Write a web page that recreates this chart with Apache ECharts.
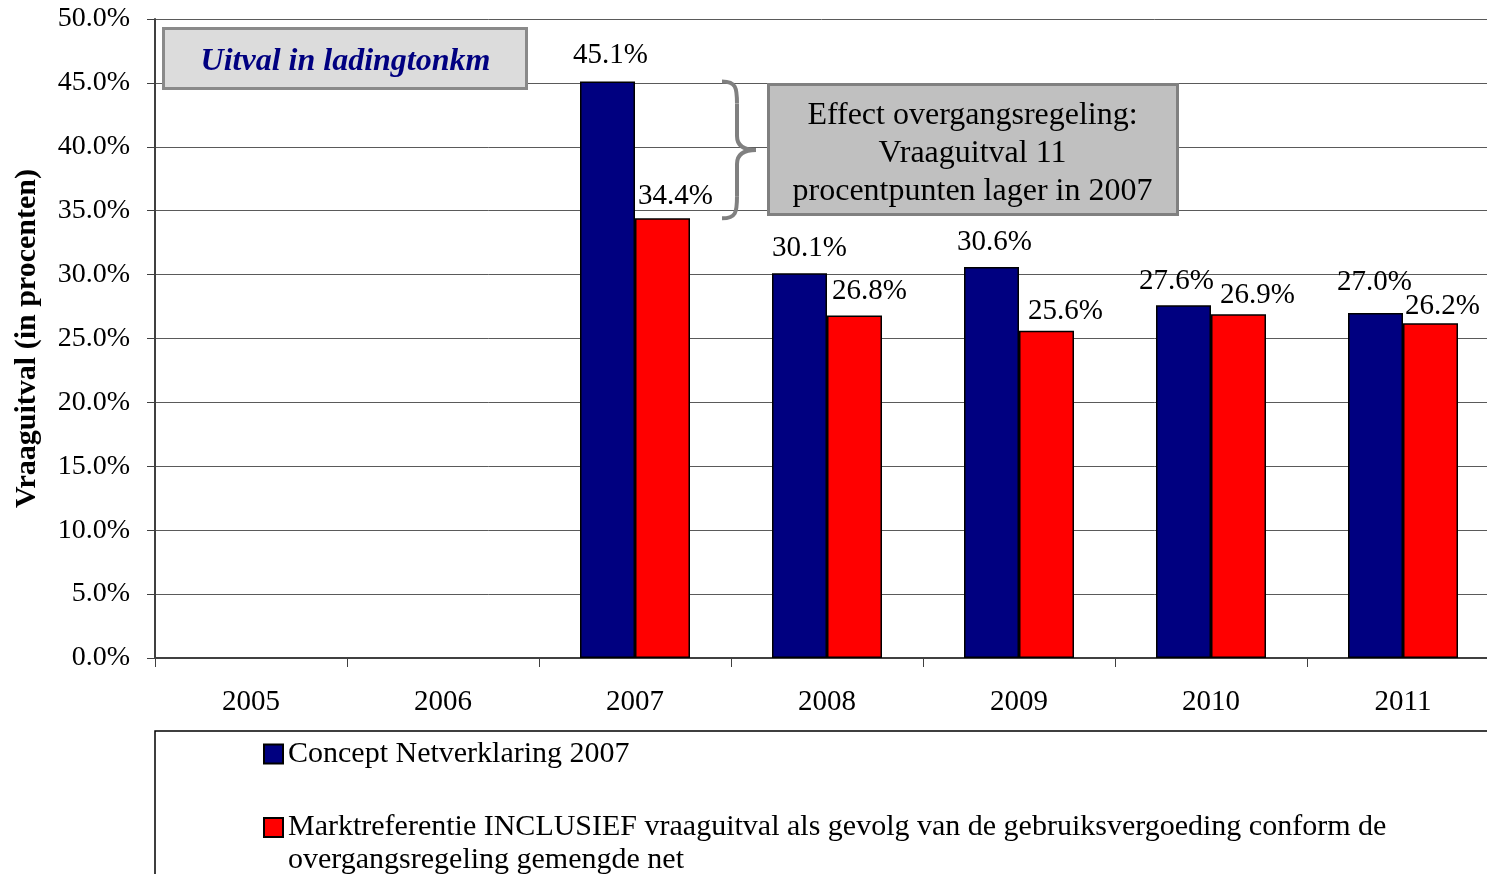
<!DOCTYPE html>
<html>
<head>
<meta charset="utf-8">
<script src="https://cdn.jsdelivr.net/npm/echarts@6/dist/echarts.min.js"></script>
<style>
  html, body { margin: 0; padding: 0; background: #fff; }
  #chart { width: 1487px; height: 874px; }
</style>
</head>
<body>
<div id="chart"></div>
<script>
// data
var years = ['2005', '2006', '2007', '2008', '2009', '2010', '2011']
var conceptNet = [null, null, 45.1, 30.1, 30.6, 27.6, 27.0]
var marktRef = [null, null, 34.4, 26.8, 25.6, 26.9, 26.2]
var seriesNames = [
  'Concept Netverklaring 2007',
  'Marktreferentie INCLUSIEF vraaguitval als gevolg van de gebruiksvergoeding conform de overgangsregeling gemengde net'
]
// label nudges (as in the original, labels were placed by hand)
var blueLabelOffset = [[0, 0], [0, 0], [3, 0], [10, 2], [3, 2], [-7, 3], [-1, -4]]
var redLabelOffset = [[0, 0], [0, 0], [13, 5], [15, 2], [19, 7], [19, 8], [12, 10]]

var font = '"Liberation Serif", "Times New Roman", serif'
var myChart = echarts.init(document.getElementById('chart'))

function withLabels(values, offsets) {
  return values.map(function (v, i) {
    return { value: v, label: { offset: offsets[i] } }
  })
}

var option = {
  backgroundColor: '#fff',
  animation: false,
  textStyle: { fontFamily: font },
  grid: { left: 155, top: 19, width: 1344, height: 639, outerBoundsMode: 'none' },
  legend: [
    {
      data: [seriesNames[0]],
      left: 258,
      top: 733,
      itemWidth: 19,
      itemHeight: 19,
      icon: 'rect',
      textStyle: { fontFamily: font, fontSize: 30, color: '#000', lineHeight: 32 }
    },
    {
      data: [seriesNames[1]],
      left: 258,
      top: 773,
      itemWidth: 19,
      itemHeight: 19,
      icon: 'rect',
      formatter: function () {
        // blank first line keeps the icon level with the first text line
        return ' \nMarktreferentie INCLUSIEF vraaguitval als gevolg van de gebruiksvergoeding conform de\novergangsregeling gemengde net'
      },
      textStyle: { fontFamily: font, fontSize: 30, color: '#000', lineHeight: 33 }
    }
  ],
  xAxis: {
    type: 'category',
    data: years,
    axisLine: { lineStyle: { color: '#404040', width: 2 } },
    axisTick: { show: true, length: 9, lineStyle: { color: '#404040' } },
    axisLabel: { fontFamily: font, fontSize: 29, color: '#000', margin: 30 }
  },
  yAxis: {
    type: 'value',
    min: 0,
    max: 50,
    interval: 5,
    name: 'Vraaguitval (in procenten)',
    nameLocation: 'middle',
    nameGap: 113,
    nameTextStyle: { fontFamily: font, fontSize: 30, fontWeight: 'bold', color: '#000' },
    axisLine: { show: true, lineStyle: { color: '#404040', width: 2 } },
    axisTick: { show: true, length: 8, lineStyle: { color: '#404040' } },
    axisLabel: {
      fontFamily: font, fontSize: 28, color: '#000', margin: 25,
      formatter: function (v) { return v.toFixed(1) + '%' }
    },
    splitLine: { lineStyle: { color: '#5a5a5a', width: 1 } }
  },
  series: [
    {
      name: seriesNames[0],
      type: 'bar',
      barWidth: 55,
      barGap: '0%',
      data: withLabels(conceptNet, blueLabelOffset),
      itemStyle: { color: '#000080', borderColor: '#000', borderWidth: 1.5 },
      label: {
        show: true, position: 'top', distance: 12,
        fontFamily: font, fontSize: 29, color: '#000',
        formatter: function (p) { return p.value == null ? '' : p.value.toFixed(1) + '%' }
      }
    },
    {
      name: seriesNames[1],
      type: 'bar',
      barWidth: 55,
      data: withLabels(marktRef, redLabelOffset),
      itemStyle: { color: '#ff0000', borderColor: '#000', borderWidth: 1.5 },
      label: {
        show: true, position: 'top', distance: 12,
        fontFamily: font, fontSize: 29, color: '#000',
        formatter: function (p) { return p.value == null ? '' : p.value.toFixed(1) + '%' }
      }
    }
  ]
}
myChart.setOption(option)

// annotations: brace spans the gap between the two 2007 bars
var yTop = myChart.convertToPixel({ yAxisIndex: 0 }, conceptNet[2])
var yBot = myChart.convertToPixel({ yAxisIndex: 0 }, marktRef[2])
var ym = (yTop + yBot) / 2
var x0 = 722
var xs = x0 + 15
var braceStyle = { fill: 'none', stroke: '#808080', lineWidth: 4 }
var brace = [
  { type: 'bezierCurve', shape: { x1: x0, y1: yTop, cpx1: x0 + 14, cpy1: yTop, cpx2: xs, cpy2: yTop + 6, x2: xs, y2: yTop + 22 } },
  { type: 'line', shape: { x1: xs, y1: yTop + 22, x2: xs, y2: ym - 14 } },
  { type: 'bezierCurve', shape: { x1: xs, y1: ym - 14, cpx1: xs, cpy1: ym - 4, cpx2: xs + 7, cpy2: ym, x2: x0 + 34, y2: ym } },
  { type: 'bezierCurve', shape: { x1: x0 + 34, y1: ym, cpx1: xs + 7, cpy1: ym, cpx2: xs, cpy2: ym + 4, x2: xs, y2: ym + 14 } },
  { type: 'line', shape: { x1: xs, y1: ym + 14, x2: xs, y2: yBot - 22 } },
  { type: 'bezierCurve', shape: { x1: xs, y1: yBot - 22, cpx1: xs, cpy1: yBot - 6, cpx2: x0 + 14, cpy2: yBot, x2: x0, y2: yBot } }
].map(function (el) {
  el.style = braceStyle
  el.z = 10
  return el
})

myChart.setOption({
  graphic: [
    {
      type: 'rect',
      shape: { x: 155, y: 731, width: 1400, height: 200 },
      style: { fill: 'none', stroke: '#000', lineWidth: 1.5 },
      z: 1
    },
    {
      type: 'group',
      left: 162,
      top: 27,
      children: [
        {
          type: 'rect',
          shape: { x: 0, y: 0, width: 363, height: 60 },
          style: { fill: '#dcdcdc', stroke: '#8a8a8a', lineWidth: 3 }
        },
        {
          type: 'text',
          x: 182,
          y: 33,
          style: {
            text: 'Uitval in ladingtonkm',
            fill: '#000080',
            font: 'italic bold 32px ' + font,
            align: 'center',
            verticalAlign: 'middle'
          }
        }
      ],
      z: 10
    },
    {
      type: 'group',
      left: 767,
      top: 83,
      children: [
        {
          type: 'rect',
          shape: { x: 0, y: 0, width: 409, height: 130 },
          style: { fill: '#c0c0c0', stroke: '#808080', lineWidth: 3 }
        },
        {
          type: 'text',
          x: 204,
          y: 69,
          style: {
            text: 'Effect overgangsregeling:\nVraaguitval 11\nprocentpunten lager in 2007',
            fill: '#000',
            font: '32px ' + font,
            lineHeight: 38,
            align: 'center',
            verticalAlign: 'middle'
          }
        }
      ],
      z: 10
    }
  ].concat(brace)
})

window.onresize = function () {
  myChart.resize()
}
</script>
</body>
</html>
